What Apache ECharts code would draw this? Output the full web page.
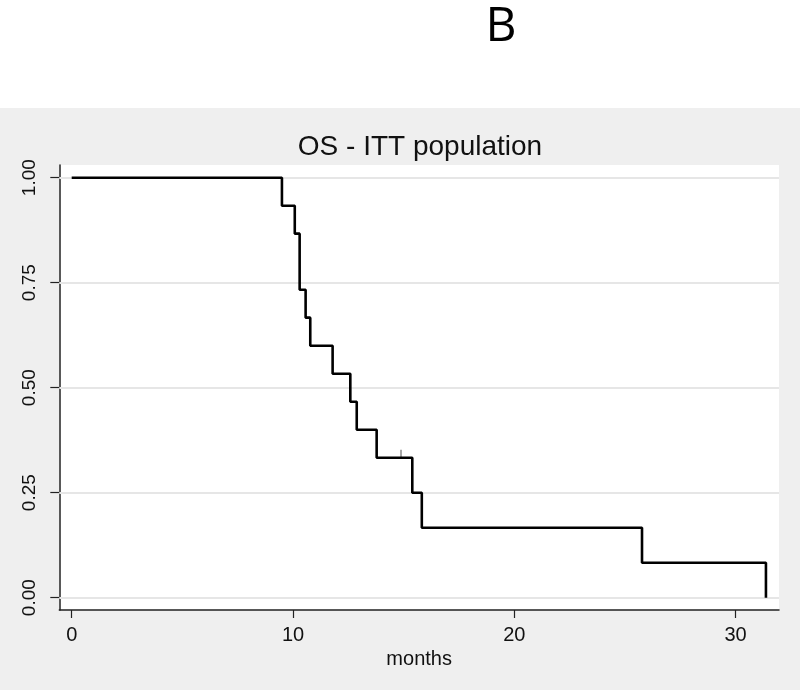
<!DOCTYPE html>
<html>
<head>
<meta charset="utf-8">
<script src="https://cdn.jsdelivr.net/npm/echarts@6/dist/echarts.min.js"></script>
<style>html,body{margin:0;padding:0;background:#fff}#c{width:800px;height:690px}</style>
</head>
<body>
<div id="c"></div>
<script>
// Kaplan-Meier step points (months, survival)
var eventTimes = [0, 9.50, 10.08, 10.30, 10.57, 10.78, 11.79, 12.59, 12.88, 13.78, 15.39, 15.82, 25.77, 31.37];
var survival   = [1.0, 0.9333, 0.8667, 0.7333, 0.6667, 0.6, 0.5333, 0.4667, 0.4, 0.3333, 0.25, 0.1667, 0.0833, 0.0];
var censorTimes = [14.88];
var xTicks = [0, 10, 20, 30];
var yTicks = [0, 0.25, 0.5, 0.75, 1.0];
var panelLabel = 'B';
var chartTitle = 'OS - ITT population';
var xName = 'months';

function survAt(t) {
  var s = survival[0];
  for (var i = 0; i < eventTimes.length; i++) { if (eventTimes[i] <= t) s = survival[i]; }
  return s;
}

var kmData = eventTimes.map(function (t, i) { return [t, survival[i]]; });
var censorData = censorTimes.map(function (t) { return [t, survAt(t)]; });

var chart = echarts.init(document.getElementById('c'), null, { renderer: 'canvas' });
var font = 'Liberation Sans, Arial, Helvetica, sans-serif';
var axisColor = '#222';

chart.setOption({
  animation: false,
  backgroundColor: '#ffffff',
  title: {
    text: chartTitle,
    left: 415,
    textAlign: 'center',
    top: 128,
    textStyle: { fontFamily: font, fontSize: 28, fontWeight: 'normal', color: '#111' }
  },
  graphic: [
    { type: 'rect', z: -100, silent: true, shape: { x: 0, y: 108, width: 800, height: 582 }, style: { fill: '#efefef' } },
    { type: 'text', z: 10, x: 501, y: 27, style: { text: panelLabel, font: '48px "Open Sans", "Liberation Sans", sans-serif', fill: '#000', align: 'center', verticalAlign: 'middle' } }
  ],
  grid: {
    left: 59.3, right: 21, top: 165, bottom: 80,
    show: true, backgroundColor: '#ffffff', borderWidth: 0
  },
  xAxis: {
    type: 'value',
    min: -0.56, max: 31.96,
    name: xName,
    nameLocation: 'middle',
    nameGap: 32,
    nameTextStyle: { fontFamily: font, fontSize: 20, color: '#111' },
    axisLine: { show: true, onZero: false, lineStyle: { color: axisColor, width: 1.5 } },
    axisTick: { show: true, customValues: xTicks, length: 8, lineStyle: { color: axisColor, width: 1.2 } },
    axisLabel: { customValues: xTicks, margin: 15, fontFamily: font, fontSize: 20, color: '#111' },
    splitLine: { show: false }
  },
  yAxis: {
    type: 'value',
    min: -0.0293, max: 1.0302,
    axisLine: { show: true, onZero: false, lineStyle: { color: axisColor, width: 1.5 } },
    axisTick: { show: true, customValues: yTicks, length: 9, lineStyle: { color: axisColor, width: 1.2 } },
    axisLabel: {
      customValues: yTicks, rotate: 90, margin: 20,
      fontFamily: font, fontSize: 19, color: '#111',
      formatter: function (v) { return Number(v).toFixed(2); }
    },
    splitLine: { show: false }
  },
  series: [
    {
      type: 'line', z: 1, data: [], silent: true,
      markLine: {
        silent: true, symbol: ['none', 'none'], label: { show: false },
        lineStyle: { color: '#e6e6e6', type: 'solid', width: 2 },
        data: yTicks.map(function (v) { return { yAxis: v }; })
      }
    },
    {
      type: 'line', z: 5, data: kmData, step: 'end', showSymbol: false, symbol: 'none',
      lineStyle: { color: '#000', width: 2.6 }
    },
    {
      type: 'scatter', z: 4, data: censorData, symbol: 'rect', symbolSize: [1.3, 8], symbolOffset: [0, -4],
      itemStyle: { color: '#555' }
    }
  ]
});
</script>
</body>
</html>
